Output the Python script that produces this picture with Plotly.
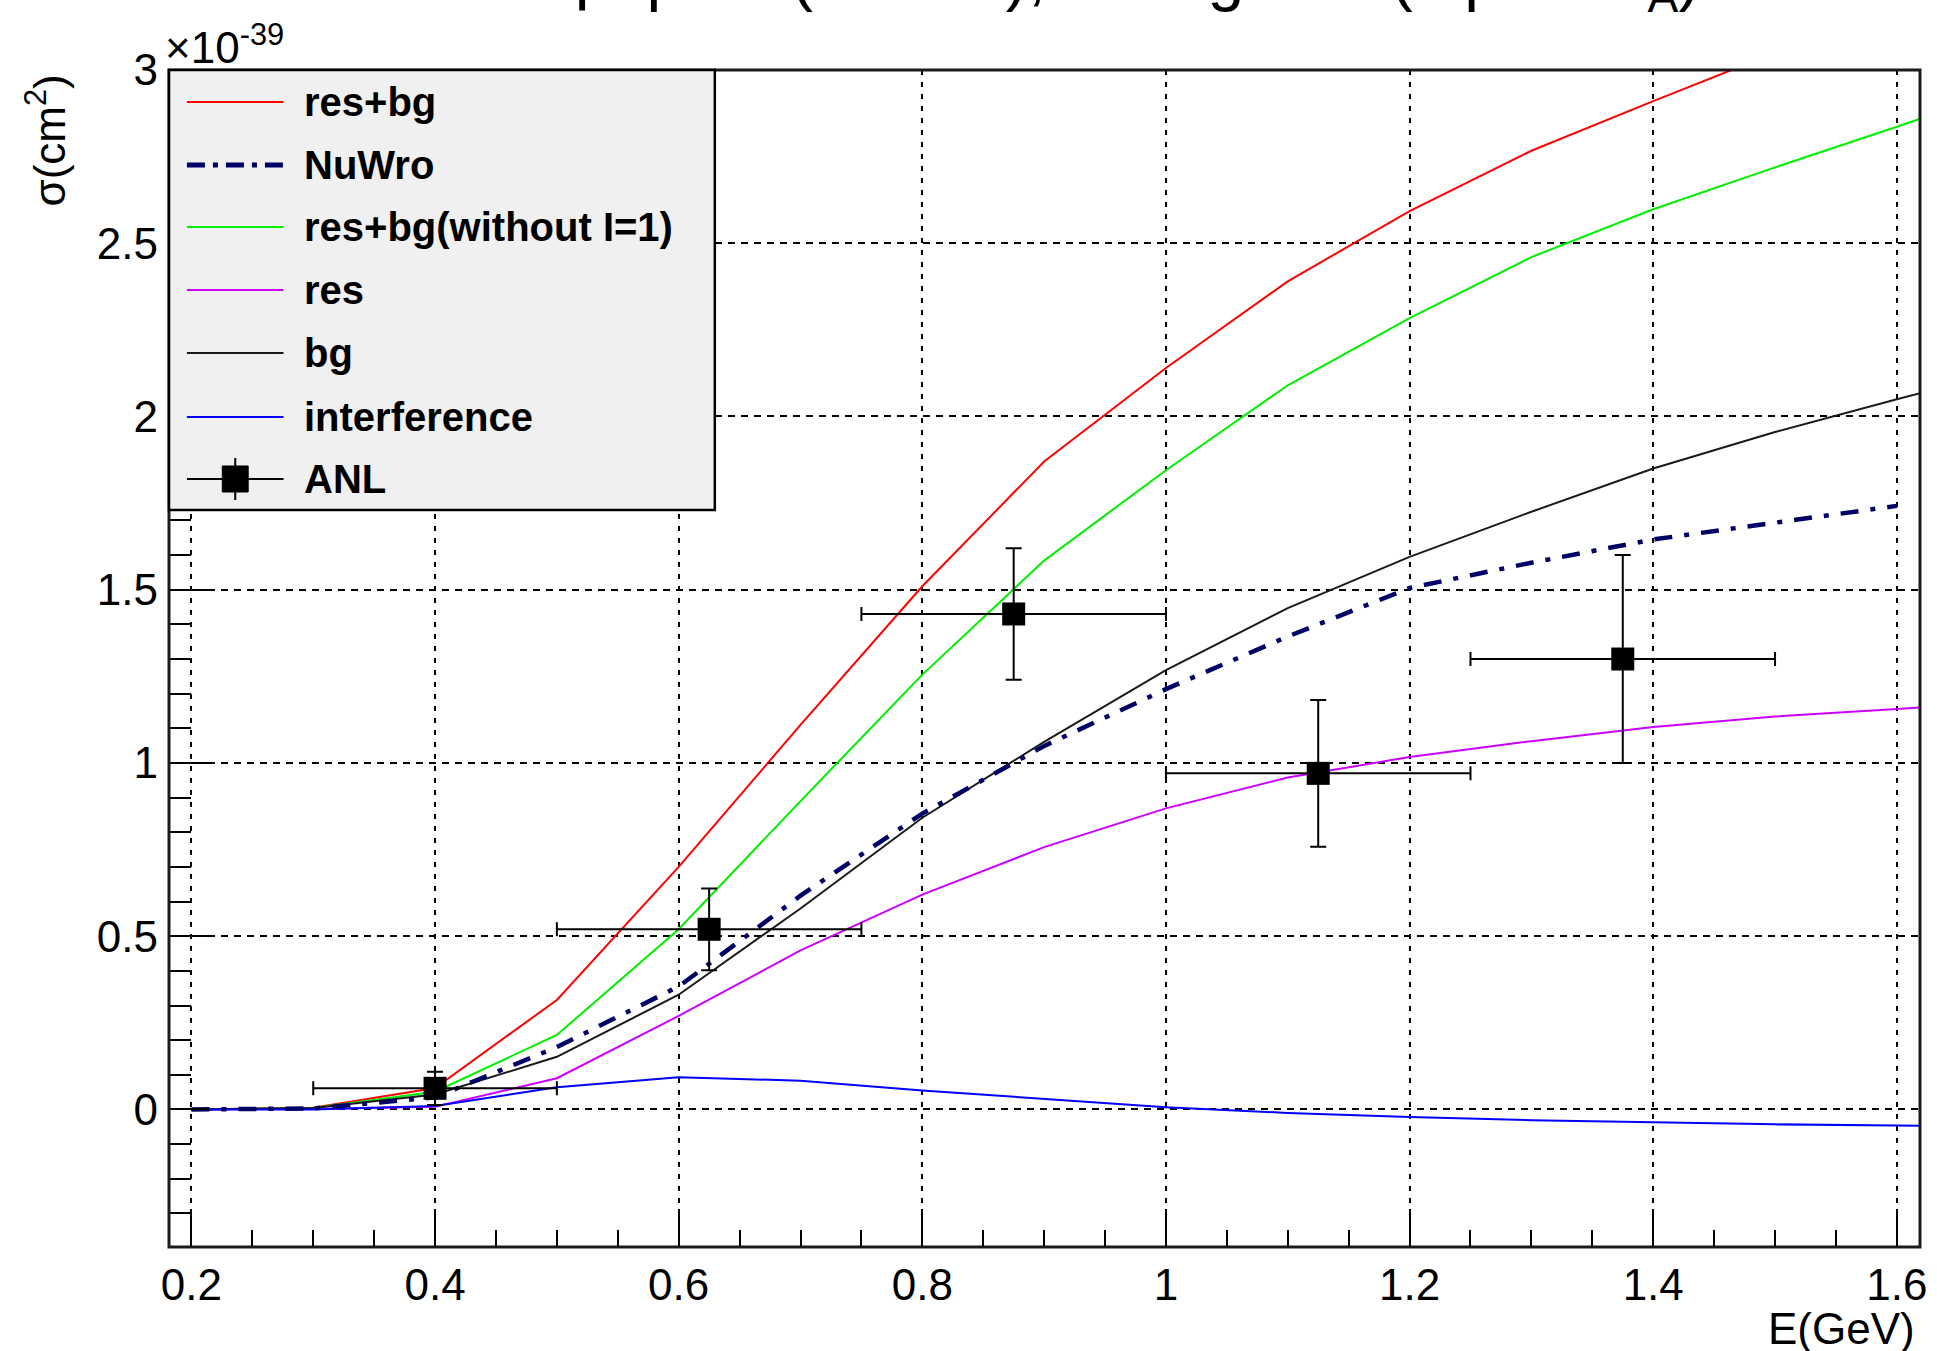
import plotly.graph_objects as go

# ---- cross-section curves (units of 1e-39 cm^2) vs neutrino energy (GeV) ----
energy = [0.2, 0.3, 0.4, 0.5, 0.6, 0.7, 0.8, 0.9, 1.0, 1.1, 1.2, 1.3, 1.4, 1.5, 1.6, 1.62]
res_bg = [0.0, 0.005, 0.062, 0.316, 0.70, 1.11, 1.51, 1.87, 2.14, 2.39, 2.593, 2.767, 2.91, 3.05, 3.16, 3.18]
res_bg_no_i1 = [0.0, 0.004, 0.051, 0.215, 0.52, 0.89, 1.255, 1.584, 1.845, 2.09, 2.284, 2.46, 2.598, 2.719, 2.836, 2.86]
res_only = [0.0, 0.002, 0.008, 0.09, 0.27, 0.459, 0.62, 0.757, 0.869, 0.958, 1.017, 1.063, 1.104, 1.134, 1.156, 1.16]
bg_only = [0.0, 0.004, 0.043, 0.152, 0.331, 0.58, 0.842, 1.061, 1.268, 1.447, 1.595, 1.725, 1.85, 1.955, 2.05, 2.068]
interference = [0.0, 0.0, 0.01, 0.064, 0.093, 0.083, 0.055, 0.03, 0.006, -0.01, -0.022, -0.031, -0.038, -0.043, -0.046, -0.047]

nuwro_energy = [0.2, 0.3, 0.4, 0.5, 0.6, 0.7, 0.8, 0.9, 1.0, 1.1, 1.2, 1.3, 1.4, 1.5, 1.6]
nuwro = [0.0, 0.003, 0.035, 0.18, 0.355, 0.617, 0.854, 1.049, 1.213, 1.365, 1.505, 1.578, 1.645, 1.695, 1.742]

# ---- ANL measurements ----
anl_energy = [0.4, 0.625, 0.875, 1.125, 1.375]
anl_energy_err = [0.1, 0.125, 0.125, 0.125, 0.125]
anl_sigma = [0.061, 0.52, 1.43, 0.97, 1.30]
anl_sigma_err = [0.048, 0.118, 0.19, 0.212, 0.30]

FONT = "Liberation Sans, Arial, Helvetica, sans-serif"
W, H = 1937, 1351
PL, PR, PT, PB = 169, 1927, 70, 1247  # plot frame in pixels


def fx(x):
    return (x - PL) / (PR - PL)


def fy(y):
    return (PB - y) / (PB - PT)


fig = go.Figure()

curves = [
    ("res+bg", energy, res_bg, "#ff0000", 2, "solid"),
    ("res+bg(without I=1)", energy, res_bg_no_i1, "#00ee00", 2, "solid"),
    ("res", energy, res_only, "#cc00ff", 2, "solid"),
    ("bg", energy, bg_only, "#1a1a1a", 2, "solid"),
    ("interference", energy, interference, "#0000ff", 2, "solid"),
    ("NuWro", nuwro_energy, nuwro, "#000066", 4.5, "18px,12px,5px,12px"),
]
for name, xs, ys, col, w, dash in curves:
    fig.add_trace(go.Scatter(x=xs, y=ys, mode="lines", name=name,
                             line=dict(color=col, width=w, dash=dash),
                             showlegend=False))

fig.add_trace(go.Scatter(
    x=anl_energy, y=anl_sigma, mode="markers", name="ANL", showlegend=False,
    marker=dict(symbol="square", size=23, color="black"),
    error_x=dict(type="data", array=anl_energy_err, color="black", thickness=2, width=7),
    error_y=dict(type="data", array=anl_sigma_err, color="black", thickness=2, width=8),
))

shapes = []
annotations = []

# frame
shapes.append(dict(type="rect", xref="paper", yref="paper", x0=0, x1=1, y0=0, y1=1,
                   line=dict(color="#1a1a1a", width=3), layer="above"))

# legend box
LX0, LX1, LY0, LY1 = 169, 717, 70, 510
shapes.append(dict(type="rect", xref="paper", yref="paper",
                   x0=fx(LX0), x1=fx(LX1), y0=fy(LY1), y1=fy(LY0),
                   fillcolor="#f0f0f0", line=dict(color="black", width=2.5), layer="above"))

legend_rows = [
    ("res+bg", "#ff0000", 2, "solid"),
    ("NuWro", "#000066", 5, "18px,8px,5px,8px"),
    ("res+bg(without I=1)", "#00ee00", 2, "solid"),
    ("res", "#cc00ff", 2, "solid"),
    ("bg", "#1a1a1a", 2, "solid"),
    ("interference", "#0000ff", 2, "solid"),
    ("ANL", "black", 2, "solid"),
]
row_y = [102, 165, 227, 290, 353, 417, 479]
SX0, SX1, TX = 187, 284, 303
for (label, col, w, dash), yy in zip(legend_rows, row_y):
    shapes.append(dict(type="line", xref="paper", yref="paper",
                       x0=fx(SX0), x1=fx(SX1), y0=fy(yy), y1=fy(yy),
                       line=dict(color=col, width=w, dash=dash), layer="above"))
    annotations.append(dict(text="<b>%s</b>" % label, xref="paper", yref="paper",
                            x=fx(TX), y=fy(yy), xanchor="left", yanchor="middle",
                            showarrow=False, font=dict(family=FONT, size=40, color="black")))
# ANL legend marker with its vertical error bar
mx = (SX0 + SX1) / 2
ay = row_y[-1]
shapes.append(dict(type="line", xref="paper", yref="paper", x0=fx(mx), x1=fx(mx),
                   y0=fy(ay - 21), y1=fy(ay + 21), line=dict(color="black", width=2), layer="above"))
shapes.append(dict(type="rect", xref="paper", yref="paper", x0=fx(mx - 13), x1=fx(mx + 13),
                   y0=fy(ay + 13), y1=fy(ay - 13), fillcolor="black",
                   line=dict(color="black", width=1), layer="above"))

# title (partly above the page edge)
annotations.append(dict(
    text="ν n → μ<sup>-</sup> p π<sup>0</sup> (W<1.4), 6 diagrams(dipole F<sub>A</sub>)",
    xref="paper", yref="paper", x=fx(1045), y=fy(24), xanchor="center", yanchor="bottom",
    showarrow=False, font=dict(family=FONT, size=66, color="black")))

# common exponent of the y axis
annotations.append(dict(text="×10<sup>-39</sup>", xref="paper", yref="paper",
                        x=fx(163), y=fy(74), xanchor="left", yanchor="bottom",
                        showarrow=False, font=dict(family=FONT, size=44, color="black")))

# axis titles
annotations.append(dict(text="σ(cm<sup>2</sup>)", xref="paper", yref="paper",
                        x=fx(45), y=fy(140), xanchor="center", yanchor="middle", textangle=-90,
                        showarrow=False, font=dict(family=FONT, size=44, color="black")))
annotations.append(dict(text="E(GeV)", xref="paper", yref="paper",
                        x=fx(1924), y=fy(1328), xanchor="right", yanchor="middle",
                        showarrow=False, font=dict(family=FONT, size=44, color="black")))

fig.update_layout(
    width=W, height=H,
    margin=dict(l=PL, r=W - PR, t=PT, b=H - PB, pad=0),
    paper_bgcolor="white", plot_bgcolor="white",
    showlegend=False,
    shapes=shapes, annotations=annotations,
    font=dict(family=FONT, size=44, color="black"),
)

fig.update_xaxes(
    range=[0.1816, 1.619], tick0=0.2, dtick=0.2,
    ticks="inside", ticklen=38, tickwidth=2, tickcolor="black",
    tickfont=dict(family=FONT, size=44, color="black"), ticklabelstandoff=8,
    showline=False, zeroline=False,
    showgrid=True, gridcolor="black", gridwidth=2, griddash="5px,7px",
    minor=dict(dtick=0.05, tick0=0.2, ticks="inside", ticklen=17, tickwidth=2,
               tickcolor="black", showgrid=False),
)
fig.update_yaxes(
    range=[-0.397, 3.0], tick0=0, dtick=0.5,
    ticks="inside", ticklen=40, tickwidth=2, tickcolor="black",
    tickfont=dict(family=FONT, size=44, color="black"), ticklabelstandoff=10,
    showline=False, zeroline=False,
    showgrid=True, gridcolor="black", gridwidth=2, griddash="7px,6px",
    minor=dict(dtick=0.1, tick0=0, ticks="inside", ticklen=22, tickwidth=2,
               tickcolor="black", showgrid=False),
)

fig.write_html("out.html")
